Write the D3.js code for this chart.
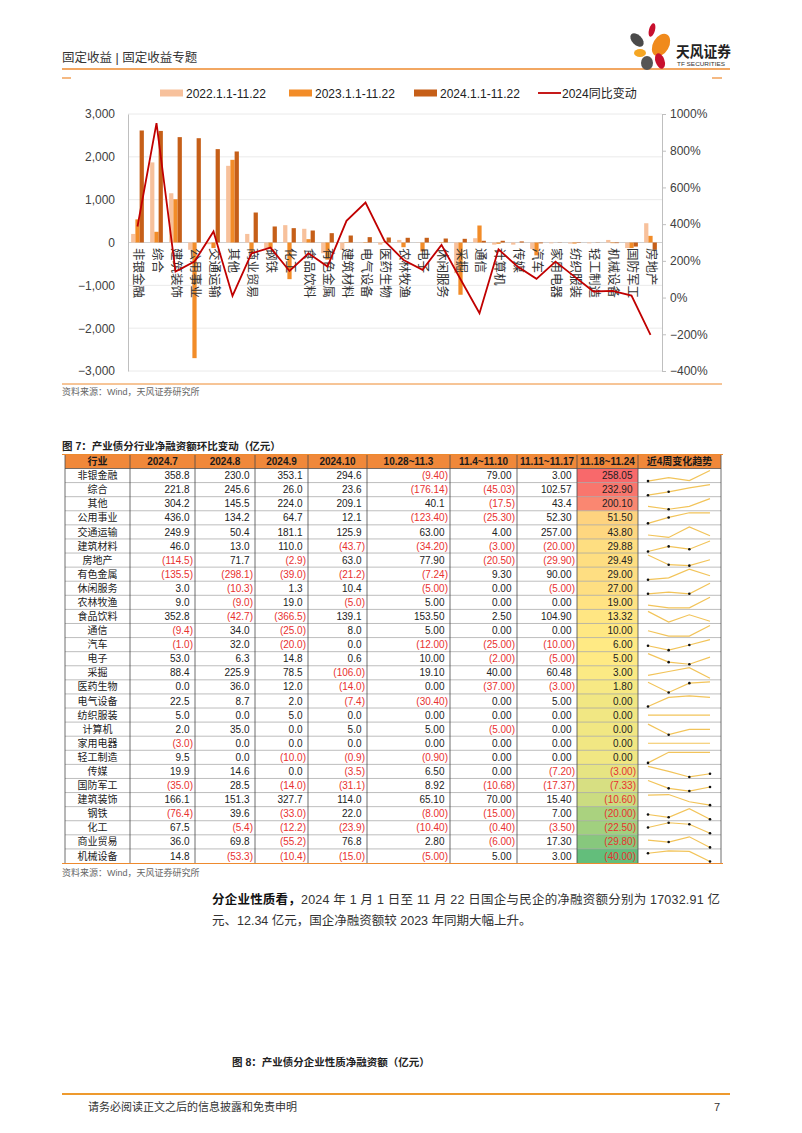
<!DOCTYPE html>
<html>
<head>
<meta charset="utf-8">
<script src="https://cdn.jsdelivr.net/npm/d3@7"></script>
<style>
  body { margin: 0; background: #fff; }
  svg { display: block; }
</style>
</head>
<body>
<script>
var FONT = "'Liberation Sans', Arial, 'Noto Sans CJK SC', sans-serif";

// ---- chart data (亿元 / %)
var categories = ["非银金融","综合","建筑装饰","公用事业","交通运输","其他","商业贸易","钢铁","化工","食品饮料",
  "有色金属","建筑材料","电气设备","医药生物","农林牧渔","电子","休闲服务","采掘","通信","计算机",
  "传媒","汽车","家用电器","纺织服装","轻工制造","机械设备","国防军工","房地产"];
var net2022 = [200,1870,1150,-170,-40,1790,200,-130,405,320,-250,-170,5,-50,60,5,5,-715,100,-50,-50,-150,-20,-25,-20,60,-130,450];
var net2023 = [540,250,1010,-2700,-130,1930,-250,-130,-856,78,-400,10,10,-10,-110,-210,-10,-1220,397,-30,0,-300,0,-25,0,-15,-130,155];
var net2024 = [2615,2605,2460,2435,2180,2125,700,374,335,280,218,163,125,117,110,110,93,86,40,40,25,-20,-5,-10,-5,-15,-95,-170];
var yoy2024 = [387,950,142,196,360,9,241,272,145,241,169,418,518,309,205,151,287,100,-85,263,169,102,196,114,33,36,11,-203];
var leftTicks = [3000,2000,1000,0,-1000,-2000,-3000];
var rightTicks = [1000,800,600,400,200,0,-200,-400];
var seriesNames = ["2022.1.1-11.22","2023.1.1-11.22","2024.1.1-11.22"];
var lineName = "2024同比变动";

// ---- table data
var tableHeader = ["行业","2024.7","2024.8","2024.9","2024.10","10.28~11.3","11.4~11.10","11.11~11.17","11.18~11.24","近4周变化趋势"];
var industries = ["非银金融","综合","其他","公用事业","交通运输","建筑材料","房地产","有色金属","休闲服务","农林牧渔",
  "食品饮料","通信","汽车","电子","采掘","医药生物","电气设备","纺织服装","计算机","家用电器",
  "轻工制造","传媒","国防军工","建筑装饰","钢铁","化工","商业贸易","机械设备"];
var m2024_07 = [358.8,221.8,304.2,436.0,249.9,46.0,-114.5,-135.5,3.0,9.0,352.8,-9.4,-1.0,53.0,88.4,0.0,22.5,5.0,2.0,-3.0,9.5,19.9,-35.0,166.1,-76.4,67.5,36.0,14.8];
var m2024_08 = [230.0,245.6,145.5,134.2,50.4,13.0,71.7,-298.1,-10.3,-9.0,-42.7,34.0,32.0,6.3,225.9,36.0,8.7,0.0,35.0,0.0,0.0,14.6,28.5,151.3,39.6,-5.4,69.8,-53.3];
var m2024_09 = [353.1,26.0,224.0,64.7,181.1,110.0,-2.9,-39.0,1.3,19.0,-366.5,-25.0,-20.0,14.8,78.5,12.0,2.0,5.0,0.0,0.0,-10.0,0.0,-14.0,327.7,-33.0,-12.2,-55.2,-10.4];
var m2024_10 = [294.6,23.6,209.1,12.1,125.9,-43.7,63.0,-21.2,10.4,-5.0,139.1,8.0,0.0,0.6,-106.0,-14.0,-7.4,0.0,5.0,0.0,-0.9,-3.5,-31.1,114.0,22.0,-23.9,76.8,-15.0];
var w1028 = [-9.40,-176.14,40.1,-123.40,63.00,-34.20,77.90,-7.24,-5.00,5.00,153.50,5.00,-12.00,10.00,19.10,0.00,-30.40,0.00,5.00,0.00,-0.90,6.50,8.92,65.10,-8.00,-10.40,2.80,-5.00];
var w1104 = [79.00,-45.03,-17.5,-25.30,4.00,-3.00,-20.50,9.30,0.00,0.00,2.50,0.00,-25.00,-2.00,40.00,-37.00,0.00,0.00,-5.00,0.00,0.00,0.00,-10.68,70.00,-15.00,-0.40,-6.00,5.00];
var w1111 = [3.00,102.57,43.4,52.30,257.00,-20.00,-29.90,90.00,-5.00,0.00,104.90,0.00,-10.00,-5.00,60.48,-3.00,5.00,0.00,0.00,0.00,0.00,-7.20,-17.37,15.40,7.00,-3.50,17.30,3.00];
var w1118 = [258.05,232.90,200.10,51.50,43.80,29.88,29.49,29.00,27.00,19.00,13.32,10.00,6.00,5.00,3.00,1.80,0.00,0.00,0.00,0.00,0.00,-3.00,-7.33,-10.60,-20.00,-22.50,-29.80,-40.00];
var weekOneDecimalRows = ["其他"];

var svg = d3.select("body").append("svg")
  .attr("width", 802).attr("height", 1133)
  .style("font-family", FONT);
svg.append("rect").attr("width", 802).attr("height", 1133).attr("fill", "#fff");

// ---- page header
svg.append("text").attr("x", 62).attr("y", 62)
  .attr("font-size", "12.5px").attr("fill", "#333")
  .text("固定收益 | 固定收益专题");
svg.append("line").attr("x1", 62).attr("x2", 730).attr("y1", 69).attr("y2", 69)
  .attr("stroke", "#EE8A2E").attr("stroke-width", 1.3);

// logo
var logo = svg.append("g");
var petals = [
  {cx: 652, cy: 30, rx: 3, ry: 7, r: 15, c: "#C8102E"},
  {cx: 637, cy: 40, rx: 5, ry: 8, r: -45, c: "#4A4A4A"},
  {cx: 661, cy: 45, rx: 8, ry: 12, r: 30, c: "#F08A1C"},
  {cx: 640, cy: 53, rx: 6, ry: 4, r: 0, c: "#F5A623"},
  {cx: 647, cy: 63, rx: 6, ry: 7, r: 0, c: "#555"},
  {cx: 660, cy: 61, rx: 4.5, ry: 8, r: -20, c: "#C8102E"}
];
logo.selectAll("ellipse").data(petals).enter().append("ellipse")
  .attr("cx", function(d){ return d.cx; }).attr("cy", function(d){ return d.cy; })
  .attr("rx", function(d){ return d.rx; }).attr("ry", function(d){ return d.ry; })
  .attr("transform", function(d){ return "rotate(" + d.r + "," + d.cx + "," + d.cy + ")"; })
  .attr("fill", function(d){ return d.c; });
logo.append("text").attr("x", 676).attr("y", 57).attr("font-size", "15px").attr("font-weight", "bold")
  .attr("fill", "#222").attr("textLength", 55).attr("lengthAdjust", "spacingAndGlyphs").text("天风证券");
logo.append("text").attr("x", 677).attr("y", 66).attr("font-size", "6px")
  .attr("fill", "#333").attr("textLength", 48).attr("lengthAdjust", "spacingAndGlyphs").text("TF SECURITIES");

// chart frame corners
svg.append("line").attr("x1", 62).attr("x2", 71).attr("y1", 78).attr("y2", 78).attr("stroke", "#EE8A2E").attr("stroke-width", 1.2);
svg.append("line").attr("x1", 712).attr("x2", 722).attr("y1", 78).attr("y2", 78).attr("stroke", "#EE8A2E").attr("stroke-width", 1.2);

// ---- chart
var colors = ["#F7C19C", "#F28C28", "#C65F18"];
var lineColor = "#C00000";

var x = d3.scaleBand().domain(categories).range([128, 660]).paddingInner(0.33).paddingOuter(0.165);
var xs = d3.scaleBand().domain([0, 1, 2]).range([0, x.bandwidth()]);
var yL = d3.scaleLinear().domain([-3000, 3000]).range([371, 114]);
var yR = d3.scaleLinear().domain([-400, 1000]).range([371, 114]);

var chart = svg.append("g");

// gridlines
chart.selectAll("line.grid").data(leftTicks).enter().append("line")
  .attr("class", "grid")
  .attr("x1", 128).attr("x2", 662)
  .attr("y1", function(d){ return yL(d); }).attr("y2", function(d){ return yL(d); })
  .attr("stroke", function(d){ return d === 0 ? "#D0D0D0" : "#EAEAEA"; })
  .attr("stroke-width", 1);

// left axis
var gl = chart.append("g").attr("transform", "translate(128,0)")
  .call(d3.axisLeft(yL).tickValues(leftTicks).tickFormat(d3.format(",")).tickSize(0).tickPadding(13));
gl.select(".domain").attr("stroke", "#BFBFBF");
gl.selectAll("text").attr("font-size", "12px").attr("fill", "#404040").attr("font-family", FONT);

// right axis
var gr = chart.append("g").attr("transform", "translate(662,0)")
  .call(d3.axisRight(yR).tickValues(rightTicks).tickFormat(function(d){ return d3.format("")(d) + "%"; }).tickSize(4).tickPadding(4));
gr.select(".domain").attr("stroke", "#BFBFBF");
gr.selectAll(".tick line").attr("stroke", "#BFBFBF");
gr.selectAll("text").attr("font-size", "12px").attr("fill", "#404040").attr("font-family", FONT);

// bars
var seriesData = [net2022, net2023, net2024];
seriesData.forEach(function(vals, s) {
  chart.append("g").selectAll("rect")
    .data(vals)
    .enter()
    .append("rect")
    .attr("x", function(d, i){ return x(categories[i]) + xs(s); })
    .attr("width", xs.bandwidth())
    .attr("y", function(d){ return yL(Math.max(0, d)); })
    .attr("height", function(d){ return Math.abs(yL(d) - yL(0)); })
    .attr("fill", colors[s]);
});

// category labels, rotated to read downward
chart.append("g").selectAll("text")
  .data(categories)
  .enter()
  .append("text")
  .attr("font-size", "12.5px")
  .attr("fill", "#333")
  .attr("dominant-baseline", "central")
  .attr("transform", function(d) {
    var cx = x(d) + x.bandwidth() / 2;
    return "translate(" + cx + ",248) rotate(90)";
  })
  .text(function(d){ return d; });

// yoy line
var line = d3.line()
  .x(function(d, i){ return x(categories[i]) + x.bandwidth() / 2; })
  .y(function(d){ return yR(d); });
chart.append("path").datum(yoy2024)
  .attr("d", line)
  .attr("fill", "none")
  .attr("stroke", lineColor)
  .attr("stroke-width", 1.8)
  .attr("stroke-linejoin", "miter");

// legend
var legend = svg.append("g").attr("font-size", "12px").attr("fill", "#222");
var legendX = [160, 289, 414];
seriesNames.forEach(function(n, i) {
  legend.append("rect").attr("x", legendX[i]).attr("y", 89.5).attr("width", 23).attr("height", 7).attr("fill", colors[i]);
  legend.append("text").attr("x", legendX[i] + 26).attr("y", 97.5).text(n);
});
legend.append("line").attr("x1", 538).attr("x2", 561).attr("y1", 93).attr("y2", 93)
  .attr("stroke", lineColor).attr("stroke-width", 1.8);
legend.append("text").attr("x", 562).attr("y", 97.5).text(lineName);

// chart bottom rule + source
svg.append("line").attr("x1", 62).attr("x2", 722).attr("y1", 384).attr("y2", 384)
  .attr("stroke", "#EE8A2E").attr("stroke-width", 1);
svg.append("text").attr("x", 62).attr("y", 395).attr("font-size", "9px").attr("fill", "#666")
  .text("资料来源：Wind，天风证券研究所");

// ---- table
svg.append("text").attr("x", 62).attr("y", 450).attr("font-size", "10.5px").attr("font-weight", "bold")
  .attr("fill", "#222").text("图 7：产业债分行业净融资额环比变动（亿元）");

var colEdges = [65, 130, 195, 255, 308, 367, 450, 517, 577, 638, 721];
var headTop = 455, headBottom = 468.5;
var rowH = (863 - headBottom) / industries.length;
var tbl = svg.append("g").attr("font-size", "10px");

tbl.append("rect").attr("x", colEdges[0]).attr("y", headTop)
  .attr("width", colEdges[10] - colEdges[0]).attr("height", headBottom - headTop)
  .attr("fill", "#F0883A");
tbl.selectAll("text.head").data(tableHeader).enter().append("text")
  .attr("class", "head")
  .attr("x", function(d, i){ return (colEdges[i] + colEdges[i + 1]) / 2; })
  .attr("y", headBottom - 3.5)
  .attr("text-anchor", "middle")
  .attr("font-weight", "bold")
  .attr("fill", "#1a1a1a")
  .text(function(d){ return d; });

// heat colours for last week
var sortedW = w1118.slice().sort(d3.ascending);
var heat = d3.scaleLinear()
  .domain([d3.min(w1118), d3.quantile(sortedW, 0.5), d3.max(w1118)])
  .range(["#63BE7B", "#FFEB84", "#F8696B"]);

tbl.selectAll("rect.heat").data(w1118).enter().append("rect")
  .attr("class", "heat")
  .attr("x", colEdges[8]).attr("width", colEdges[9] - colEdges[8])
  .attr("y", function(d, i){ return headBottom + i * rowH; })
  .attr("height", rowH)
  .attr("fill", function(d){ return heat(d); });

// horizontal lines
tbl.selectAll("line.hr").data(d3.range(1, industries.length)).enter().append("line")
  .attr("class", "hr")
  .attr("x1", colEdges[0]).attr("x2", colEdges[10])
  .attr("y1", function(d){ return headBottom + d * rowH; })
  .attr("y2", function(d){ return headBottom + d * rowH; })
  .attr("stroke", "#A0A0A0").attr("stroke-width", 0.7);
tbl.append("line").attr("x1", colEdges[0]).attr("x2", colEdges[10]).attr("y1", headBottom).attr("y2", headBottom)
  .attr("stroke", "#555").attr("stroke-width", 0.8);
// vertical lines
tbl.selectAll("line.vr").data(colEdges).enter().append("line")
  .attr("class", "vr")
  .attr("x1", function(d){ return d; }).attr("x2", function(d){ return d; })
  .attr("y1", headTop).attr("y2", 863)
  .attr("stroke", "#4a4a4a").attr("stroke-width", 0.8);
svg.append("line").attr("x1", 62).attr("x2", 723).attr("y1", 454.5).attr("y2", 454.5)
  .attr("stroke", "#EE8A2E").attr("stroke-width", 1.2);
svg.append("line").attr("x1", 62).attr("x2", 723).attr("y1", 863.5).attr("y2", 863.5)
  .attr("stroke", "#EE8A2E").attr("stroke-width", 1.2);

function fmt(v, dec) {
  var s = Math.abs(v).toFixed(dec);
  return v < 0 ? "(" + s + ")" : s;
}

var numCols = [m2024_07, m2024_08, m2024_09, m2024_10, w1028, w1104, w1111, w1118];
industries.forEach(function(name, i) {
  var base = headBottom + i * rowH + rowH / 2 + 3.6;
  tbl.append("text")
    .attr("x", (colEdges[0] + colEdges[1]) / 2).attr("y", base)
    .attr("text-anchor", "middle").attr("fill", "#222").text(name);
  numCols.forEach(function(col, c) {
    var v = col[i];
    var dec = c < 4 ? 1 : (c < 7 && weekOneDecimalRows.indexOf(name) >= 0 ? 1 : 2);
    tbl.append("text")
      .attr("x", colEdges[c + 2] - (v < 0 ? 2 : 5.5))
      .attr("y", base)
      .attr("text-anchor", "end")
      .attr("fill", v < 0 ? "#E8312F" : "#222")
      .text(fmt(v, dec));
  });
});

// sparklines
var sx = d3.scalePoint().domain([0, 1, 2, 3]).range([648, 710]);
industries.forEach(function(name, i) {
  var vals = [w1028[i], w1104[i], w1111[i], w1118[i]];
  var top = headBottom + i * rowH, bottom = top + rowH;
  var ext = d3.extent(vals);
  var sy = d3.scaleLinear().domain(ext).range([bottom - 1.5, top + 2]);
  var yv = function(v){ return ext[0] === ext[1] ? (top + bottom) / 2 : sy(v); };
  var sl = d3.line().x(function(d, k){ return sx(k); }).y(function(d){ return yv(d); });
  tbl.append("path").datum(vals).attr("d", sl)
    .attr("fill", "none").attr("stroke", "#F2C45A").attr("stroke-width", 1.2);
  tbl.append("g").selectAll("circle")
    .data(vals.map(function(v, k){ return {v: v, k: k}; }).filter(function(d){ return d.v < 0; }))
    .enter().append("circle")
    .attr("cx", function(d){ return sx(d.k); })
    .attr("cy", function(d){ return yv(d.v); })
    .attr("r", 1.3).attr("fill", "#111");
});

svg.append("text").attr("x", 62).attr("y", 876).attr("font-size", "9px").attr("fill", "#666")
  .text("资料来源：Wind，天风证券研究所");

// ---- body text
var p1 = svg.append("text").attr("x", 212).attr("y", 904).attr("font-size", "12.5px").attr("fill", "#333")
  .attr("textLength", 508).attr("lengthAdjust", "spacing");
p1.append("tspan").attr("font-weight", "bold").attr("fill", "#111").text("分企业性质看，");
p1.append("tspan").text("2024 年 1 月 1 日至 11 月 22 日国企与民企的净融资额分别为 17032.91 亿");
svg.append("text").attr("x", 212).attr("y", 925).attr("font-size", "12.5px").attr("fill", "#333")
  .text("元、12.34 亿元，国企净融资额较 2023 年同期大幅上升。");

svg.append("text").attr("x", 232).attr("y", 1066).attr("font-size", "10.5px").attr("font-weight", "bold")
  .attr("fill", "#222").text("图 8：产业债分企业性质净融资额（亿元）");

// ---- footer
svg.append("line").attr("x1", 62).attr("x2", 730).attr("y1", 1094).attr("y2", 1094)
  .attr("stroke", "#EE9A2E").attr("stroke-width", 2);
svg.append("text").attr("x", 88).attr("y", 1111).attr("font-size", "11px").attr("fill", "#333")
  .text("请务必阅读正文之后的信息披露和免责申明");
svg.append("text").attr("x", 720).attr("y", 1111).attr("font-size", "11px").attr("fill", "#333")
  .attr("text-anchor", "end").text("7");
</script>
</body>
</html>
